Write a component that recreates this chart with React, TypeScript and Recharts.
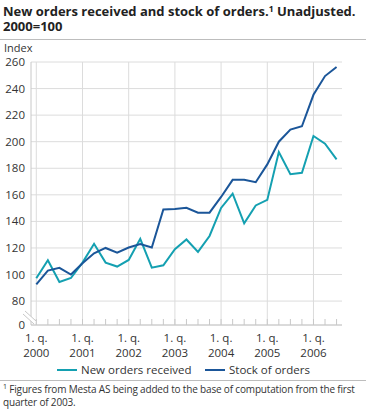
import { LineChart, Line, XAxis, YAxis, CartesianGrid, ReferenceLine } from 'recharts';

// quarterly index, 2000=100, 1. q. 2000 - 3. q. 2006
const years = ['2000', '2001', '2002', '2003', '2004', '2005', '2006'];

const newOrdersReceived = [
  97.2, 110.8, 94.4, 97.4,
  109, 123.1, 109, 106,
  111, 126.9, 105.2, 107,
  119, 126.4, 117, 129,
  150.1, 160.9, 138.5, 152,
  156.2, 192.2, 175.5, 176.6,
  204.3, 198.5, 186.7,
];

const stockOfOrders = [
  92.6, 103, 105, 100,
  108.5, 116, 120, 116.5,
  120.3, 123, 120.3, 149,
  149.3, 150.3, 146.6, 146.6,
  158.4, 171.3, 171.3, 169.5,
  182.9, 200, 209.1, 211.6,
  235.3, 249.4, 256.2,
];

// 62 is the bottom of the broken axis, shown as 0
const yTicks = [62, 80, 100, 120, 140, 160, 180, 200, 220, 240, 260];

const TEAL = '#14a0b1';
const BLUE = '#1b5699';
const GRID = '#dcdcdc';
const TEXT = '#333';
const FONT = '"Open Sans", sans-serif';

const data = newOrdersReceived.map((v, i) => ({
  idx: i,
  newOrders: v,
  stock: stockOfOrders[i],
}));

const quarterIdx = data.map((d) => d.idx);
const firstQuarters = quarterIdx.filter((i) => i % 4 === 0);

const QuarterTick = ({ x, y, payload }: any) => {
  const i = payload.value;
  return (
    <g>
      <line x1={x} x2={x} y1={y - 6} y2={y} stroke="#c8c8c8" />
      {i % 4 === 0 && (
        <text x={x} y={y} textAnchor="middle" fontSize={11.5} fill={TEXT} fontFamily={FONT}>
          <tspan x={x} dy={17}>1. q.</tspan>
          <tspan x={x} dy={15}>{years[i / 4]}</tspan>
        </text>
      )}
    </g>
  );
};

const IndexTick = ({ x, y, payload }: any) => {
  const ax = x + 6;
  const isZero = payload.value === 62;
  return (
    <g>
      {isZero && (
        <g>
          <polygon
            points={`${ax - 8},${y - 11} ${ax + 3},${y - 1} ${ax + 5},${y - 4} ${ax - 6},${y - 14}`}
            fill="#fff"
          />
          <line x1={ax - 8} y1={y - 11} x2={ax + 3} y2={y - 1} stroke="#c8c8c8" />
          <line x1={ax - 6} y1={y - 14} x2={ax + 5} y2={y - 4} stroke="#c8c8c8" />
        </g>
      )}
      <text x={x} y={y} dy={4} textAnchor="end" fontSize={11.5} fill={TEXT} fontFamily={FONT}>
        {isZero ? '0' : payload.value}
      </text>
    </g>
  );
};

const titleStyle = {
  position: 'absolute' as const,
  left: 3,
  fontSize: 13,
  fontWeight: 700,
  lineHeight: '15px',
  color: '#222',
  whiteSpace: 'nowrap' as const,
};

export default function App() {
  return (
    <div
      style={{
        position: 'absolute',
        left: 0,
        top: 0,
        width: 366,
        height: 409,
        background: '#fff',
        fontFamily: FONT,
        color: TEXT,
        overflow: 'hidden',
      }}
    >
      <div style={{ ...titleStyle, top: 4 }}>
        New orders received and stock of orders.<sup style={{ fontSize: 8.5, verticalAlign: 'top', lineHeight: '9px' }}>1</sup> Unadjusted.
      </div>
      <div style={{ ...titleStyle, top: 19 }}>2000=100</div>
      <div style={{ position: 'absolute', left: 0, top: 39, width: 366, height: 1, background: '#bdbdbd' }} />
      <div style={{ position: 'absolute', left: 4, top: 42, fontSize: 11, lineHeight: '12px' }}>Index</div>

      <div style={{ position: 'absolute', left: 0, top: 0 }}>
        <LineChart width={366} height={360} data={data} margin={{ top: 62, right: 24, left: 0, bottom: 0 }}>
          <CartesianGrid horizontal vertical={false} stroke={GRID} />
          {firstQuarters.map((q) => (
            <ReferenceLine key={q} x={q} stroke={GRID} />
          ))}
          <XAxis
            type="number"
            dataKey="idx"
            domain={[-0.46, 26.47]}
            ticks={quarterIdx}
            interval={0}
            height={35}
            tickSize={0}
            tickMargin={0}
            tickLine={false}
            axisLine={{ stroke: '#c8c8c8' }}
            tick={<QuarterTick />}
          />
          <YAxis
            type="number"
            domain={[62, 260]}
            ticks={yTicks}
            interval={0}
            width={31}
            tickSize={0}
            tickMargin={6}
            tickLine={false}
            axisLine={{ stroke: '#c8c8c8' }}
            tick={<IndexTick />}
          />
          <Line
            type="linear"
            dataKey="newOrders"
            name="New orders received"
            stroke={TEAL}
            strokeWidth={2}
            dot={false}
            isAnimationActive={false}
          />
          <Line
            type="linear"
            dataKey="stock"
            name="Stock of orders"
            stroke={BLUE}
            strokeWidth={2}
            dot={false}
            isAnimationActive={false}
          />
        </LineChart>
      </div>

      {/* legend */}
      <div style={{ position: 'absolute', left: 57, top: 369, width: 20, height: 2, background: TEAL }} />
      <div style={{ position: 'absolute', left: 81, top: 362, fontSize: 11.5, lineHeight: '16px', whiteSpace: 'nowrap' }}>
        New orders received
      </div>
      <div style={{ position: 'absolute', left: 205, top: 369, width: 20, height: 2, background: BLUE }} />
      <div style={{ position: 'absolute', left: 229, top: 362, fontSize: 11.5, lineHeight: '16px', whiteSpace: 'nowrap' }}>
        Stock of orders
      </div>

      <div style={{ position: 'absolute', left: 0, top: 380, width: 366, height: 1, background: '#bdbdbd' }} />
      <div
        style={{
          position: 'absolute',
          left: 3,
          top: 383,
          fontSize: 10,
          letterSpacing: -0.17,
          lineHeight: '12.5px',
          whiteSpace: 'nowrap',
        }}
      >
        <sup style={{ fontSize: 7, verticalAlign: 'top', lineHeight: '7px' }}>1</sup> Figures from Mesta AS being added to the base of computation from the first
        <br />
        quarter of 2003.
      </div>
    </div>
  );
}
